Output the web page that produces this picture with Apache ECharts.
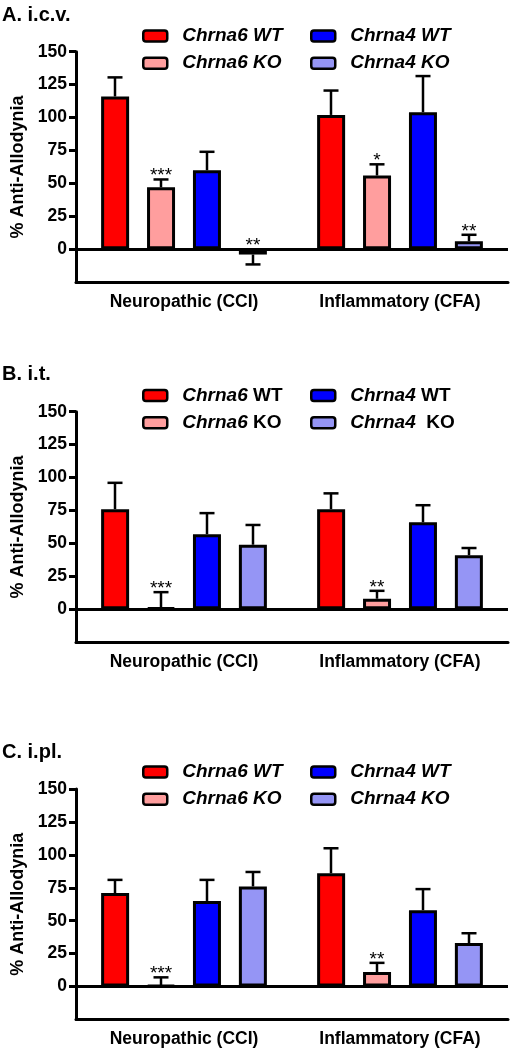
<!DOCTYPE html>
<html>
<head>
<meta charset="utf-8">
<script src="https://cdn.jsdelivr.net/npm/echarts@6/dist/echarts.min.js"></script>
<style>
html,body{margin:0;padding:0;background:#fff;}
#chart{width:510px;height:1050px;}
</style>
</head>
<body>
<div id="chart"></div>
<script>
// ---------- DATA ----------
const categories = ['Neuropathic (CCI)', 'Inflammatory (CFA)'];
const seriesNames = ['Chrna6 WT', 'Chrna6 KO', 'Chrna4 WT', 'Chrna4 KO'];
const panelTitles = ['A. i.c.v.', 'B. i.t.', 'C. i.pl.'];
const yTicks = [0, 25, 50, 75, 100, 125, 150];

// each row = one group (series), values for [CCI, CFA]
const icvMean = [[116, 102], [47, 56], [60, 104], [-4, 6]];
const icvSem  = [[14.5, 18.5], [6, 8.5], [14, 27.5], [7.5, 5]];
const icvSig  = [['', ''], ['***', '*'], ['', ''], ['**', '**']];

const itMean = [[76, 76], [1, 8], [57, 66], [49, 41]];
const itSem  = [[20, 12], [12, 6], [16, 13], [15, 5.5]];
const itSig  = [['', ''], ['***', '**'], ['', ''], ['', '']];

const iplMean = [[71, 86], [1, 11], [65, 58], [76, 33]];
const iplSem  = [[10, 19], [6, 7], [16, 16], [11, 7.5]];
const iplSig  = [['', ''], ['***', '**'], ['', ''], ['', '']];

// ---------- STYLE ----------
const colors = ['#FF0000', '#FF9E9E', '#0000FF', '#9595F5'];
const FONT = '"Liberation Sans", Arial, sans-serif';
const panels = [
  {mean: icvMean, sem: icvSem, sig: icvSig, gridTop: 51.7, legendTop: 26.5, titleTop: 0, italicAll: true},
  {mean: itMean, sem: itSem, sig: itSig, gridTop: 411.7, legendTop: 386, titleTop: 359, italicAll: false},
  {mean: iplMean, sem: iplSem, sig: iplSig, gridTop: 789, legendTop: 762.5, titleTop: 737, italicAll: true}
];
const GRID_H = 230.5;
const PITCH = 46;

const option = {
  animation: false,
  backgroundColor: '#fff',
  title: [], grid: [], xAxis: [], yAxis: [], legend: [], series: []
};

panels.forEach((p, pi) => {
  option.title.push({
    text: panelTitles[pi], left: 1, top: p.titleTop, padding: [5, 5, 5, 1],
    textStyle: {fontFamily: FONT, fontWeight: 'bold', fontSize: 20, color: '#000'}
  });
  option.grid.push({left: 76, width: 432, top: p.gridTop, height: GRID_H});
  option.xAxis.push({
    type: 'category', gridIndex: pi, data: categories,
    axisLine: {onZero: false, lineStyle: {color: '#000', width: 3}},
    axisTick: {alignWithLabel: true, length: 6, lineStyle: {color: '#000', width: 3}},
    axisLabel: {margin: 11, color: '#000', fontFamily: FONT, fontWeight: 'bold', fontSize: 17.5}
  });
  option.yAxis.push({
    type: 'value', gridIndex: pi, min: -25, max: 150, interval: 25,
    name: '% Anti-Allodynia', nameLocation: 'middle', nameRotate: 90, nameGap: 48,
    nameTextStyle: {fontFamily: FONT, fontWeight: 'bold', fontSize: 18, color: '#000'},
    axisLine: {show: true, onZero: false, lineStyle: {color: '#000', width: 3}},
    axisTick: {show: true, length: 7, customValues: yTicks, lineStyle: {color: '#000', width: 3}},
    axisLabel: {margin: 9, customValues: yTicks, color: '#000', fontFamily: FONT, fontWeight: 'bold', fontSize: 17.5},
    splitLine: {show: false}
  });
  const rich = {
    i: {fontFamily: FONT, fontWeight: 'bold', fontStyle: 'italic', fontSize: 19, color: '#000'},
    n: {fontFamily: FONT, fontWeight: 'bold', fontStyle: 'normal', fontSize: 19, color: '#000'},
    g: {width: 10}
  };
  const fmt = (name) => {
    const parts = name.split(' ');
    if (p.italicAll) return '{g|}{i|' + name + '}';
    const sp = (name === 'Chrna4 KO') ? '  ' : ' ';
    return '{g|}{i|' + parts[0] + '}{n|' + sp + parts[1] + '}';
  };
  [[0, 1], [2, 3]].forEach((col, ci) => {
    option.legend.push({
      orient: 'vertical', left: ci === 0 ? 142 : 310, top: p.legendTop, padding: 0,
      itemWidth: 24, itemHeight: 11, itemGap: 8.2, icon: 'roundRect',
      selectedMode: false,
      data: col.map(k => seriesNames[k]),
      formatter: fmt,
      textStyle: {rich: rich, fontFamily: FONT, fontSize: 19, fontWeight: 'bold', color: '#000'},
      itemStyle: {borderColor: '#000', borderWidth: 2.5}
    });
  });
  seriesNames.forEach((nm, k) => {
    const s = {
      type: 'bar', name: nm, xAxisIndex: pi, yAxisIndex: pi,
      data: p.mean[k], barWidth: 28, barGap: '64%',
      itemStyle: {color: colors[k], borderColor: '#000', borderWidth: 3}
    };
    if (k === 0) {
      s.markLine = {
        silent: true, symbol: ['none', 'none'], label: {show: false},
        lineStyle: {color: '#000', width: 3, type: 'solid'},
        data: [{yAxis: 0}]
      };
    }
    option.series.push(s);
  });
  // error bars + significance marks
  const errData = [];
  const sigText = [];
  seriesNames.forEach((nm, k) => {
    categories.forEach((c, ci) => {
      errData.push([ci, p.mean[k][ci], p.sem[k][ci], k]);
      sigText.push(p.sig[k][ci]);
    });
  });
  option.series.push({
    type: 'custom', xAxisIndex: pi, yAxisIndex: pi, z: 5, silent: true,
    data: errData,
    renderItem: (params, api) => {
      const ci = api.value(0), v = api.value(1), e = api.value(2), k = api.value(3);
      const base = api.coord([ci, v]);
      const x = base[0] + (k - 1.5) * PITCH;
      const endV = v >= 0 ? v + e : v - e;
      const end = api.coord([ci, endV]);
      const children = [
        {type: 'line', shape: {x1: x, y1: base[1], x2: x, y2: end[1]}, style: {stroke: '#000', lineWidth: 2.5}},
        {type: 'line', shape: {x1: x - 7.5, y1: end[1], x2: x + 7.5, y2: end[1]}, style: {stroke: '#000', lineWidth: 2.5}}
      ];
      const t = sigText[params.dataIndex];
      if (t) {
        const topY = v >= 0 ? end[1] : api.coord([ci, 0])[1];
        children.push({
          type: 'text',
          style: {text: t, x: x, y: topY + 6, align: 'center', verticalAlign: 'bottom',
                  fontFamily: FONT, fontSize: 19, fill: '#000'}
        });
      }
      return {type: 'group', children: children};
    }
  });
});

const chart = echarts.init(document.getElementById('chart'), null, {renderer: 'canvas'});
chart.setOption(option);
</script>
</body>
</html>
